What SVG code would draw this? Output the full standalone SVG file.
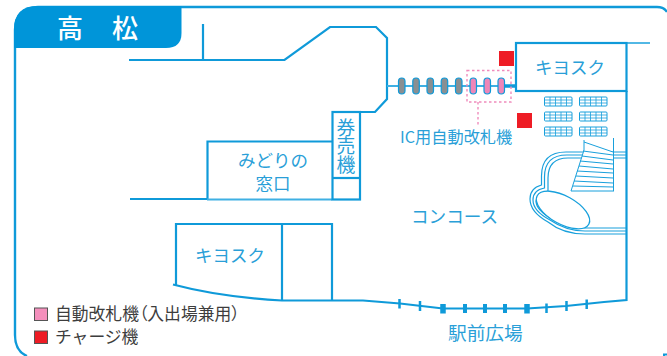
<svg xmlns="http://www.w3.org/2000/svg" width="667" height="356" viewBox="0 0 667 356">
<style>
.l{fill:none;stroke:#0f9ad9;stroke-width:2.2}
.t{fill:none;stroke:#18a0dc;stroke-width:1.2}
.h{fill:none;stroke:#18a0dc;stroke-width:1}
text{font-family:"Noto Sans CJK JP","Noto Sans",sans-serif;fill:#2a9fd8}
.k{fill:#3d3d3d;font-size:16.800px}
.p{font-feature-settings:"palt"}
</style>
<defs>
<g id="grid"><rect x="0" y="0" width="27.5" height="9" rx="1" fill="#fff" stroke="#18a0dc" stroke-width="1"/><path d="M0 3H27.5M0 6H27.5M5.5 0V9M11 0V9M16.500 0V9M22 0V9" stroke="#18a0dc" stroke-width=".8" fill="none"/></g>
</defs>
<rect width="667" height="356" fill="#fff"/>
<g id="frame"><path class="l" d="M15 30Q15 7 38 7H657Q664 7 667 12M15 30V335Q15 351 27 356" style="stroke-width:2.400"/><path d="M664 356V354.500H667" fill="none" stroke="#0f9ad9" stroke-width="2"/></g>
<g id="header"><path d="M14 48V30Q14 6 38 6H181.500V33Q181.500 48 166 48Z" fill="#0095d9"/><text x="57" y="38" font-size="26" font-weight="500" style="fill:#fff">高</text><text x="112" y="38" font-size="26" font-weight="500" style="fill:#fff">松</text></g>
<g id="connectors">
<path class="l" d="M129 60H284.500L330 27H376L387 38V99L375 112H361"/>
<path class="l" d="M203 24V60"/>
<path class="l" d="M130 199H207"/>
<path d="M387 86H516" fill="none" stroke="#3fb0e3" stroke-width="1.800"/>
<path d="M505 86H516" fill="none" stroke="#0f9ad9" stroke-width="3.500"/>
<path class="l" d="M626.500 91V300L604 302L566 306L527 308.500H443L400 303.500L363 300.500H282Q220 297 173 284.500"/>
<path d="M626 43H650" fill="none" stroke="#3fb0e3" stroke-width="1.800"/>
<path d="M399.500 299V308.500M420 301V311M566.500 301V311M546.500 303.500V313M586.700 299.500V309" stroke="#0f9ad9" stroke-width="2.500" fill="none"/>
<path d="M443 304V313.500M527 304V313.500" stroke="#0f9ad9" stroke-width="5.500" fill="none"/>
<path d="M465 304V313M485 304V313M505 304V313" stroke="#0f9ad9" stroke-width="4" fill="none"/>
</g>
<g id="kiosk-top"><rect class="l" x="516" y="43" width="110.500" height="48"/><text x="535" y="74" font-size="17.500">キヨスク</text></g>
<g id="kiosk-bottom"><path class="l" d="M176 285V224H332V300M282 224V300"/><text x="195" y="262" font-size="17.500">キヨスク</text></g>
<g id="midori"><path class="l" d="M207.500 199V141.500H332"/><path d="M207 199.500H332" stroke="#3fb0e3" stroke-width="1.800"/><text font-size="17.500" text-anchor="middle"><tspan x="273" y="167">みどりの</tspan><tspan x="273" y="190">窓口</tspan></text></g>
<g id="ticket"><rect class="l" x="332.500" y="112" width="27.500" height="87.500"/><path class="l" d="M332 178H360"/><text x="346" y="118" font-size="18.800" style="writing-mode:vertical-rl">券売機</text></g>
<g id="gates" stroke="#0f9ad9" stroke-width="1.200">
<rect x="398.500" y="78" width="6.500" height="16" rx="3.200" fill="#8a8f92"/><rect x="412.800" y="78" width="6.500" height="16" rx="3.200" fill="#8a8f92"/><rect x="427" y="78" width="6.500" height="16" rx="3.200" fill="#8a8f92"/><rect x="441.200" y="78" width="6.500" height="16" rx="3.200" fill="#8a8f92"/><rect x="455.500" y="78" width="6.500" height="16" rx="3.200" fill="#8a8f92"/>
<rect x="470" y="78" width="6.500" height="16" rx="3.200" fill="#ee86b8"/><rect x="484" y="78" width="6.500" height="16" rx="3.200" fill="#ee86b8"/><rect x="498" y="78" width="6.500" height="16" rx="3.200" fill="#ee86b8"/>
</g>
<g id="ic-gates"><rect x="467" y="70.500" width="44" height="31.500" fill="none" stroke="#f08cbc" stroke-width="1.400" stroke-dasharray="2.500 2.500"/><path d="M478 102V126" fill="none" stroke="#f08cbc" stroke-width="1.400" stroke-dasharray="2.500 2.500"/><text x="400" y="143" font-size="16.200">IC用自動改札機</text></g>
<g id="charge"><rect x="499" y="51" width="15" height="15" fill="#ee1c25"/><rect x="517" y="113" width="15" height="15" fill="#ee1c25"/></g>
<g id="benches"><use href="#grid" x="544.500" y="97"/><use href="#grid" x="579.500" y="97"/><use href="#grid" x="544.500" y="112"/><use href="#grid" x="579.500" y="112"/><use href="#grid" x="544.500" y="127"/><use href="#grid" x="579.500" y="127"/></g>
<g id="concourse-stair">
<path class="t" d="M626 152H566Q541.500 152 541.500 176V185Q530 188 530 199Q530 212 548 222Q563 234 585 234H626"/>
<path class="t" d="M626 155H567Q544.500 155 544.500 177V188Q533 190 533 200Q533 211 550 220Q566 231 585 231H626"/>
<path class="t" d="M626 158H568Q548 158 548 178V191Q536 193 536 201Q536 210 552 219Q569 228 585 228H626"/>
<path d="M584 142L613 152V191H571L584 150Z" fill="#fff"/>
<path class="h" d="M584 140V150L571 191H614M584 142L613 152M613.500 138V191M583 151L613 155M582 156L613 160M580 161L613 164M579 166L613 169M577 171L613 173M576 176L613 178M574 181L613 183M573 186L613 187"/>
<ellipse cx="563" cy="210" rx="29.500" ry="14" transform="rotate(29 563 210)" fill="#fff" stroke="#18a0dc" stroke-width="1.300"/>
</g>
<g id="labels"><text x="411" y="223" font-size="17.600">コンコース</text><text x="448" y="340" font-size="18.700">駅前広場</text></g>
<g id="legend"><rect x="34.500" y="308" width="13" height="12.500" fill="#f48fbc" stroke="#555" stroke-width="1"/><rect x="34.500" y="331" width="13" height="12.500" fill="#ee1c25" stroke="#555" stroke-width="1"/><text class="k" x="55" y="320">自動改札機<tspan class="p">（</tspan>入出場兼用<tspan class="p">）</tspan></text><text class="k" x="55" y="343">チャージ機</text></g>
</svg>
